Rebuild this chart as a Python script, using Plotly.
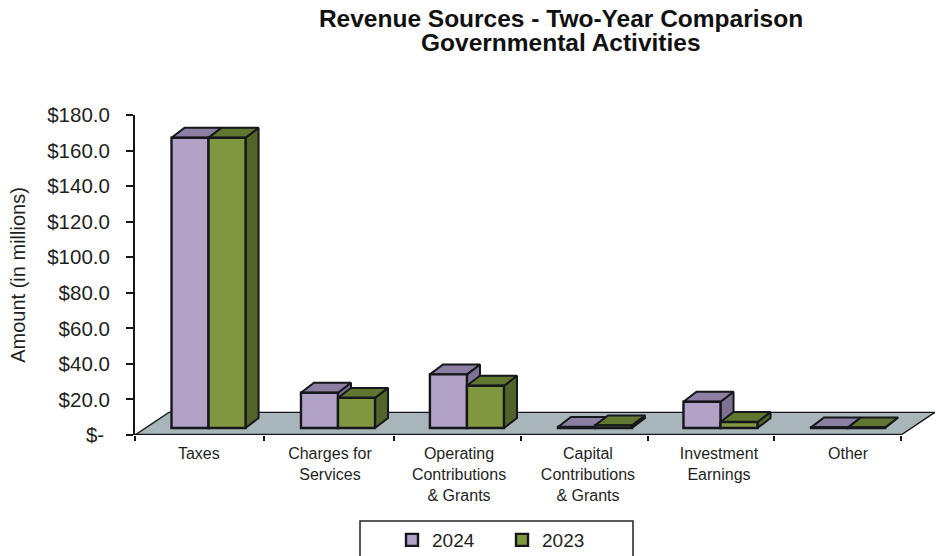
import plotly.graph_objects as go

# Revenue by source, in millions of dollars
categories = [
    "Taxes",
    "Charges for<br>Services",
    "Operating<br>Contributions<br>& Grants",
    "Capital<br>Contributions<br>& Grants",
    "Investment<br>Earnings",
    "Other",
]
revenue_2024 = [163.3, 19.9, 30.2, 0.6, 14.8, 0.4]
revenue_2023 = [163.3, 17.0, 23.8, 1.5, 3.4, 0.3]
y_ticks = [0, 20, 40, 60, 80, 100, 120, 140, 160, 180]
y_tick_text = ["$-\u00a0", "$20.0", "$40.0", "$60.0", "$80.0", "$100.0", "$120.0", "$140.0", "$160.0", "$180.0"]

# Placement along the category axis, in axis units
TICK_AT = [0, 1.010, 2.029, 3.023, 4.018, 5.005, 6]
LABEL_AT = [0.500, 1.527, 2.538, 3.548, 4.574, 5.585]
GROUP_AT = [0.576, 1.590, 2.600, 3.603, 4.586, 5.585]

# Pseudo-3D geometry, in axis units
BAR_WIDTH = 0.29
BAR_LIFT = 3.9
DEPTH_X = 0.102
DEPTH_Y = 5.6
FLOOR_X = 0.265
FLOOR_Y = 12.7
X_MAX = 6.274

EDGE = "#15171a"
TEXT = "#1f1f1f"
FONT = "Liberation Sans"

series = [
    ("2024", revenue_2024, -1, "#B3A2C7", "#8C7FA3", "#7D7194"),
    ("2023", revenue_2023, 0, "#7F983F", "#5F7730", "#52642A"),
]

fig = go.Figure()


def polygon(xs, ys, color, width=2):
    fig.add_trace(go.Scatter(
        x=xs + xs[:1], y=ys + ys[:1], mode="lines", fill="toself", fillcolor=color,
        line=dict(color=EDGE, width=width), hoverinfo="skip", showlegend=False,
        xaxis="x", yaxis="y",
    ))


# Floor plane
polygon([0, 6, 6 + FLOOR_X, FLOOR_X], [0, 0, FLOOR_Y, FLOOR_Y], "#A9B6B9", 1.4)

# Top and side faces, painted left to right
for i in range(len(categories)):
    for name, values, slot, front, top, side in series:
        left = GROUP_AT[i] + slot * BAR_WIDTH
        right = left + BAR_WIDTH
        peak = BAR_LIFT + values[i]
        polygon([right, right + DEPTH_X, right + DEPTH_X, right],
                [BAR_LIFT, BAR_LIFT + DEPTH_Y, peak + DEPTH_Y, peak], side)
        polygon([left, right, right + DEPTH_X, left + DEPTH_X],
                [peak, peak, peak + DEPTH_Y, peak + DEPTH_Y], top)

# Category axis line, stopping where the floor's front edge ends
fig.add_trace(go.Scatter(x=[0, 6], y=[0, 0], mode="lines", line=dict(color=EDGE, width=2.4),
                         hoverinfo="skip", showlegend=False, cliponaxis=False))

# Front faces sit on an overlaid subplot so they cover the neighbouring side faces
for name, values, slot, front, top, side in series:
    fig.add_trace(go.Bar(
        name=name,
        x=[g + (slot + 0.5) * BAR_WIDTH for g in GROUP_AT],
        y=values,
        base=BAR_LIFT,
        width=BAR_WIDTH,
        marker=dict(color=front, line=dict(color=EDGE, width=2.4)),
        xaxis="x2",
        yaxis="y2",
    ))

fig.update_layout(
    width=936,
    height=556,
    autosize=False,
    margin=dict(l=135, r=0, t=115, b=121),
    paper_bgcolor="white",
    plot_bgcolor="white",
    barmode="overlay",
    font=dict(family=FONT, color=TEXT),
    title=dict(
        text="<b>Revenue Sources - Two-Year Comparison</b>",
        x=561 / 936, xanchor="center", xref="container",
        y=1 - 18 / 556, yanchor="middle", yref="container",
        font=dict(size=24.5, color="#111111", family=FONT),
    ),
    annotations=[dict(
        text="<b>Governmental Activities</b>",
        xref="paper", yref="paper", x=(561 - 135) / 801, y=(435 - 43) / 320,
        xanchor="center", yanchor="middle", showarrow=False,
        font=dict(size=24.5, color="#111111", family=FONT),
    )],
    xaxis=dict(
        range=[0, X_MAX], tickvals=TICK_AT, ticktext=[""] * len(TICK_AT),
        ticks="outside", ticklen=5, tickwidth=1.5, tickcolor=EDGE,
        showgrid=False, zeroline=False, showline=False,
    ),
    xaxis2=dict(
        range=[0, X_MAX], overlaying="x", anchor="y2", side="bottom",
        tickvals=LABEL_AT, ticktext=categories,
        ticks="", ticklabelstandoff=7, tickfont=dict(size=16, color=TEXT),
        showgrid=False, zeroline=False, showline=False,
    ),
    yaxis=dict(
        range=[0, 180], tickvals=y_ticks, ticktext=y_tick_text,
        ticks="outside", ticklen=7, tickwidth=1.5, tickcolor=EDGE,
        ticklabelstandoff=12, tickfont=dict(size=20.5, color=TEXT),
        showgrid=False, zeroline=False, showline=True, linecolor=EDGE, linewidth=2,
        title=dict(text="Amount (in millions)", font=dict(size=20, color=TEXT), standoff=16),
    ),
    yaxis2=dict(range=[0, 180], overlaying="y", anchor="x2", visible=False),
    legend=dict(
        orientation="h", xref="container", yref="container",
        x=392 / 936, y=1 - 521 / 556,
        xanchor="left", yanchor="top", font=dict(size=19, color=TEXT),
        entrywidth=65, entrywidthmode="pixels", traceorder="normal",
        bgcolor="rgba(0,0,0,0)",
    ),
    shapes=[dict(
        type="rect", xref="paper", yref="paper",
        x0=(360 - 135) / 801, x1=(633 - 135) / 801,
        y0=(435 - 521) / 320, y1=(435 - 575) / 320,
        line=dict(color="#222222", width=1.5), fillcolor="white", layer="below",
    )],
)

fig.write_html("out.html")
